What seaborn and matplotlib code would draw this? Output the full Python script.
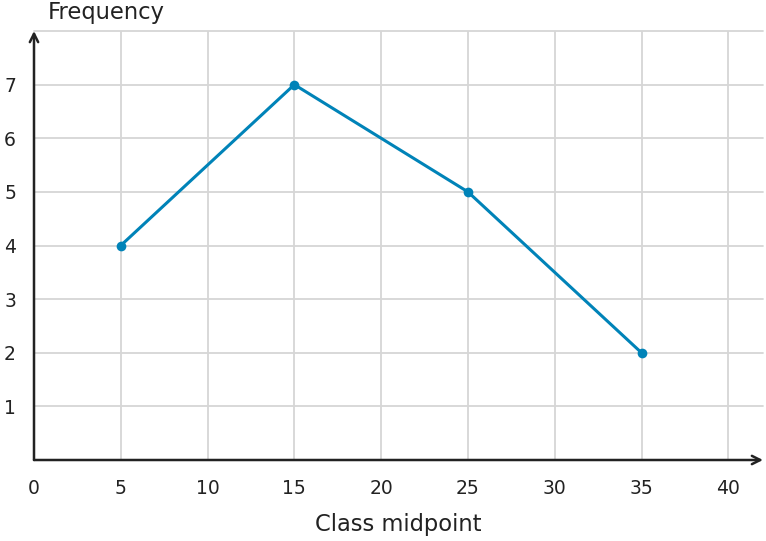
import matplotlib
matplotlib.use("Agg")
import matplotlib.pyplot as plt
import seaborn as sns
import pandas as pd

midpoints = [5, 15, 25, 35]
frequencies = [4, 7, 5, 2]
x_ticks = [0, 5, 10, 15, 20, 25, 30, 35, 40]
y_ticks = [1, 2, 3, 4, 5, 6, 7]

sns.set_style("white")
plt.rcParams['font.family'] = ['DejaVu Sans']
plt.rcParams['font.sans-serif'] = ['DejaVu Sans']

W, H = 766, 541
fig = plt.figure(figsize=(W / 100, H / 100), dpi=100)
ax = fig.add_axes([34 / W, 1 - 460 / H, (763 - 34) / W, (460 - 31) / H])

df = pd.DataFrame({"x": midpoints, "y": frequencies})
line_color = "#0083b8"
sns.lineplot(data=df, x="x", y="y", ax=ax, color=line_color, linewidth=2.2,
             marker="o", markersize=7, markeredgewidth=0, zorder=5)

ax.set_xlim(0, 42)
ax.set_ylim(0, 8)

grid_c = "#d6d6d6"
for xv in x_ticks[1:]:
    ax.axvline(xv, color=grid_c, lw=1.3, zorder=1)
for yv in y_ticks + [8]:
    ax.axhline(yv, color=grid_c, lw=1.3, zorder=1, clip_on=False)

for s in ax.spines.values():
    s.set_visible(False)

ax.set_xticks(x_ticks)
ax.set_yticks(y_ticks)
ax.tick_params(axis="both", direction="in", length=5, width=1.4, color="#222222",
               labelsize=13.5, labelcolor="#222222")
ax.tick_params(axis="x", pad=13.5)
ax.tick_params(axis="y", pad=13)
for lab in ax.get_xticklabels() + ax.get_yticklabels():
    lab.set_fontfamily("DejaVu Sans")

axis_c = "#222222"
ax.annotate("", xy=(1.0, 0), xytext=(0, 0), xycoords="axes fraction",
            arrowprops=dict(arrowstyle="->,head_length=0.6,head_width=0.3", lw=1.8,
                            color=axis_c, shrinkA=0, shrinkB=0), zorder=6, annotation_clip=False)
ax.annotate("", xy=(0, 1.0), xytext=(0, 0), xycoords="axes fraction",
            arrowprops=dict(arrowstyle="->,head_length=0.6,head_width=0.3", lw=1.8,
                            color=axis_c, shrinkA=0, shrinkB=0), zorder=6, annotation_clip=False)

ax.set_xlabel("")
ax.set_ylabel("")
fig.text(106 / W, 1 - 13 / H, "Frequency", ha="center", va="center", fontsize=16.3,
         color="#222222", fontfamily="DejaVu Sans")
fig.text(398 / W, 1 - 524 / H, "Class midpoint", ha="center", va="center", fontsize=16.3,
         color="#222222", fontfamily="DejaVu Sans")

fig.savefig("out.png", dpi=100)
